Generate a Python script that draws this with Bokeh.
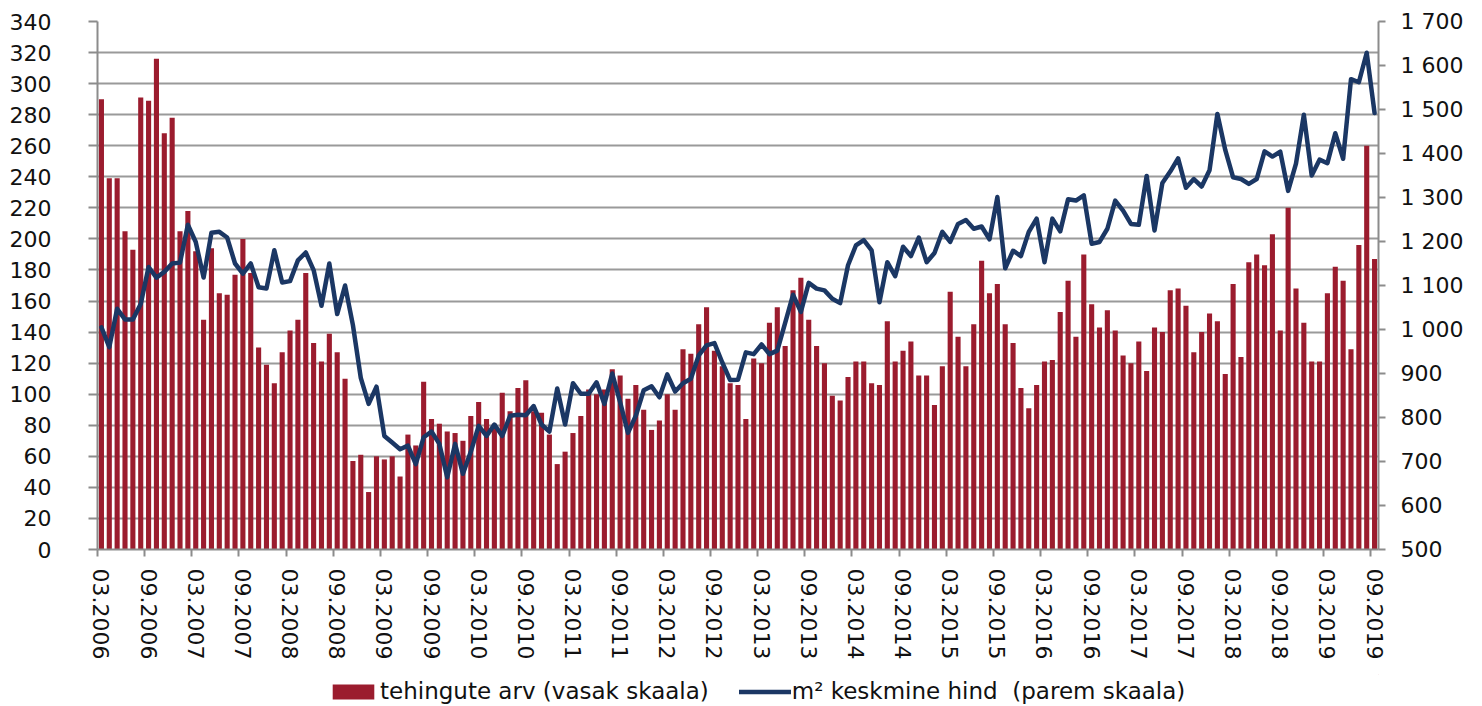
from bokeh.plotting import figure
from bokeh.layouts import column
from bokeh.models import (ColumnDataSource, Range1d, LinearAxis, FixedTicker, Grid,
                          Legend, LegendItem, CustomJSTickFormatter, CDSView, IndexFilter)
from bokeh.embed import file_html
from bokeh.resources import INLINE

# ---------------- data ----------------
months = []
for yr in range(2006, 2020):
    for mo in range(1, 13):
        if (2006, 3) <= (yr, mo) <= (2019, 9):
            months.append(f"{mo:02d}.{yr}")

# tehingute arv (left axis)
deals = [
    290, 239, 239, 205, 193, 291, 289, 316, 268, 278,
    205, 218, 192, 148, 194, 165, 164, 177, 200, 178,
    130, 119, 107, 127, 141, 148, 178, 133, 121, 139,
    127, 110, 57, 61, 37, 60, 58, 60, 47, 74,
    67, 108, 84, 81, 76, 75, 70, 86, 95, 84,
    81, 101, 89, 104, 109, 89, 88, 74, 55, 63,
    75, 86, 103, 100, 103, 116, 112, 97, 106, 90,
    77, 83, 100, 90, 129, 126, 145, 156, 128, 118,
    107, 106, 84, 123, 120, 146, 156, 131, 167, 175,
    148, 131, 120, 99, 96, 111, 121, 121, 107, 106,
    147, 121, 128, 134, 112, 112, 93, 118, 166, 137,
    118, 145, 186, 165, 171, 145, 133, 104, 91, 106,
    121, 122, 153, 173, 137, 190, 158, 143, 154, 141,
    125, 120, 134, 115, 143, 140, 167, 168, 157, 127,
    140, 152, 147, 113, 171, 124, 185, 190, 183, 203,
    141, 220, 168, 146, 121, 121, 165, 182, 173, 129,
    196, 260, 187,
]

# m2 keskmine hind (right axis)
price = [
    1005, 960, 1047, 1023, 1023, 1058, 1142, 1118, 1131, 1150,
    1152, 1238, 1199, 1118, 1220, 1222, 1209, 1150, 1127, 1150,
    1096, 1093, 1180, 1107, 1110, 1157, 1175, 1135, 1054, 1150,
    1035, 1100, 1010, 890, 831, 870, 758, 743, 728, 736,
    694, 755, 768, 740, 664, 740, 672, 722, 781, 758,
    784, 758, 804, 806, 805, 826, 784, 768, 866, 784,
    878, 854, 854, 880, 831, 900, 835, 765, 804, 862,
    871, 846, 898, 859, 878, 888, 941, 964, 969, 925,
    885, 886, 948, 944, 966, 944, 952, 1015, 1079, 1040,
    1106, 1093, 1089, 1070, 1060, 1146, 1191, 1203, 1180, 1062,
    1153, 1121, 1188, 1167, 1209, 1153, 1174, 1222, 1199, 1240,
    1249, 1229, 1234, 1205, 1301, 1139, 1179, 1167, 1222, 1252,
    1153, 1252, 1223, 1296, 1293, 1305, 1195, 1199, 1229, 1293,
    1270, 1240, 1238, 1349, 1225, 1333, 1359, 1389, 1322, 1342,
    1325, 1362, 1490, 1408, 1346, 1342, 1331, 1342, 1405, 1393,
    1404, 1315, 1377, 1488, 1350, 1386, 1378, 1446, 1388, 1569,
    1562, 1629, 1492,
]

left_ticks = list(range(0, 341, 20))
right_ticks = list(range(500, 1701, 100))
x_label_step = 6

legend_deals = "tehingute arv (vasak skaala)"
legend_price = "m\u00b2 keskmine hind  (parem skaala)"

# ---------------- styling ----------------
BAR = "#9b1c2e"
LINE = "#1b3764"
GRID = "#9a9a9a"
AXIS = "#8c8c8c"
TXT = "#111111"
FONT = "DejaVu Sans"
TICK_FS = "22px"

n = len(months)
src = ColumnDataSource(dict(x=[i + 0.5 for i in range(n)], deals=deals, price=price))

p = figure(width=1474, height=674, output_backend="svg", toolbar_location=None,
           x_range=Range1d(0, n), y_range=Range1d(0, 340),
           x_axis_type=None, y_axis_type=None,
           min_border_left=97, min_border_right=96, min_border_top=21, min_border_bottom=125)
p.outline_line_color = None
p.extra_y_ranges = {"price": Range1d(500, 1700)}

# left axis
lt = FixedTicker(ticks=left_ticks, minor_ticks=[])
la = LinearAxis(ticker=lt)
la.axis_line_color = AXIS
la.axis_line_width = 2
la.major_tick_line_color = AXIS
la.major_tick_line_width = 2
la.major_tick_out = 9
la.major_tick_in = 0
la.minor_tick_line_color = None
la.major_label_standoff = 37
la.major_label_text_font = FONT
la.major_label_text_font_size = TICK_FS
la.major_label_text_color = TXT
p.add_layout(la, "left")

# right axis
ra = LinearAxis(y_range_name="price", ticker=FixedTicker(ticks=right_ticks, minor_ticks=[]),
                formatter=CustomJSTickFormatter(code="""
const s = Math.round(tick).toString();
return s.length > 3 ? s.slice(0, s.length - 3) + ' ' + s.slice(-3) : s;
"""))
ra.axis_line_color = AXIS
ra.axis_line_width = 2
ra.major_tick_line_color = AXIS
ra.major_tick_line_width = 2
ra.major_tick_out = 7
ra.major_tick_in = 0
ra.minor_tick_line_color = None
ra.major_label_standoff = 15
ra.major_label_text_font = FONT
ra.major_label_text_font_size = TICK_FS
ra.major_label_text_color = TXT
p.add_layout(ra, "right")

# bottom axis: labels at category centres, tick marks at category boundaries
label_idx = list(range(0, n, x_label_step))
bt = FixedTicker(ticks=[i + 0.5 for i in label_idx], minor_ticks=label_idx)
ba = LinearAxis(ticker=bt, formatter=CustomJSTickFormatter(args=dict(labels=months), code="""
return labels[Math.floor(tick)];
"""))
ba.axis_line_color = AXIS
ba.axis_line_width = 2
ba.major_tick_line_color = None
ba.major_tick_out = 0
ba.major_tick_in = 0
ba.minor_tick_line_color = AXIS
ba.minor_tick_line_width = 2
ba.minor_tick_out = 7
ba.minor_tick_in = 0
ba.major_label_orientation = "vertical"
ba.major_label_standoff = 12
ba.major_label_text_font = FONT
ba.major_label_text_font_size = TICK_FS
ba.major_label_text_color = TXT
p.add_layout(ba, "below")

p.add_layout(Grid(dimension=1, ticker=lt, grid_line_color=GRID, grid_line_width=2))

bars = p.vbar(x="x", top="deals", width=0.65, bottom=0, source=src,
              fill_color=BAR, line_color=None)
ln = p.line(x="x", y="price", source=src, y_range_name="price",
            line_color=LINE, line_width=4.5, line_join="round", line_cap="round")

# ---------------- legend strip below the chart ----------------
# legend swatches: same series, one row each, scrolled out of this strip's view
pl = figure(width=1474, height=32, output_backend="svg", toolbar_location=None,
            x_range=Range1d(-400, -200), y_range=Range1d(-5000, -3000),
            x_axis_type=None, y_axis_type=None, min_border=0)
pl.outline_line_color = None
pl.grid.visible = False
one_row = CDSView(filter=IndexFilter(indices=[0]))
lbars = pl.vbar(x="x", top="deals", width=0.65, bottom=0, source=src, view=one_row,
                fill_color=BAR, line_color=None)
lln = pl.line(x="x", y="price", source=src, view=one_row,
              line_color=LINE, line_width=4.5, line_join="round", line_cap="round")

leg = Legend(items=[LegendItem(label=legend_deals, renderers=[lbars]),
                    LegendItem(label=legend_price, renderers=[lln])],
             location=(230, 2), orientation="horizontal",
             glyph_width=52, glyph_height=19, label_standoff=1, spacing=30,
             padding=0, margin=0, border_line_color=None, background_fill_alpha=0,
             label_text_font=FONT, label_text_font_size="23px", label_text_color=TXT)
pl.add_layout(leg)

open("out.html", "w").write(file_html(column(p, pl, spacing=0), INLINE))
